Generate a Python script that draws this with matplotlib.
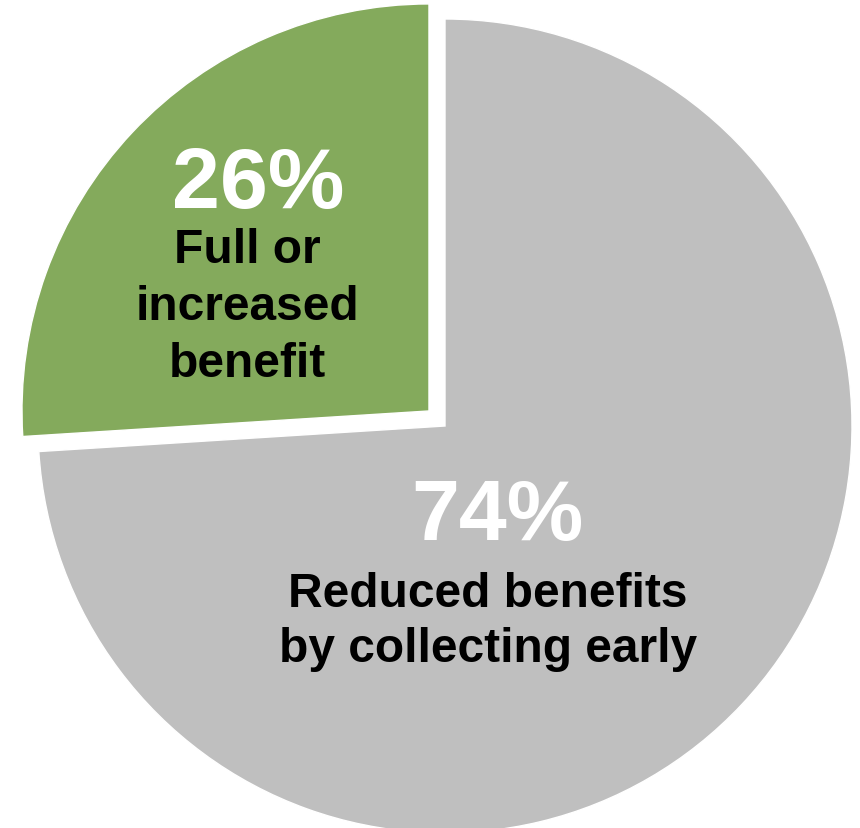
import matplotlib.pyplot as plt

plt.rcParams['font.family'] = ['Liberation Sans', 'DejaVu Sans']

# data
shares = [26, 74]
pct_labels = ["26%", "74%"]
desc_labels = [["Full or", "increased", "benefit"],
               ["Reduced benefits", "by collecting early"]]
colors = ["#84AA5C", "#BFBFBF"]
explode = [0.054, 0.0]

fig = plt.figure(figsize=(8.6, 8.29), dpi=100)
ax = fig.add_axes([0, 0, 1, 1])

ax.pie(shares, colors=colors, explode=explode, startangle=90,
       counterclock=True, wedgeprops=dict(edgecolor="white", linewidth=1))

# pixel -> data helper (pie centre at px (445, 427), radius 407 px)
def px(x, y):
    return (x - 445) / 407, (427 - y) / 407

ax.set_xlim(-445 / 407, (860 - 445) / 407)
ax.set_ylim(-(829 - 427) / 407, 427 / 407)
ax.set_aspect('auto')
ax.axis('off')

# green slice labels
ax.text(*px(258, 208), pct_labels[0], color="white", fontsize=62,
        fontweight="bold", ha="center", va="baseline")
for line, yb in zip(desc_labels[0], [263, 320, 377]):
    ax.text(*px(247, yb), line, color="black", fontsize=34.5,
            fontweight="bold", ha="center", va="baseline")

# gray slice labels
ax.text(*px(497, 540), pct_labels[1], color="white", fontsize=62,
        fontweight="bold", ha="center", va="baseline")
for line, yb in zip(desc_labels[1], [607, 662]):
    ax.text(*px(488, yb), line, color="black", fontsize=34.5,
            fontweight="bold", ha="center", va="baseline")

plt.savefig("out.png", dpi=100)
